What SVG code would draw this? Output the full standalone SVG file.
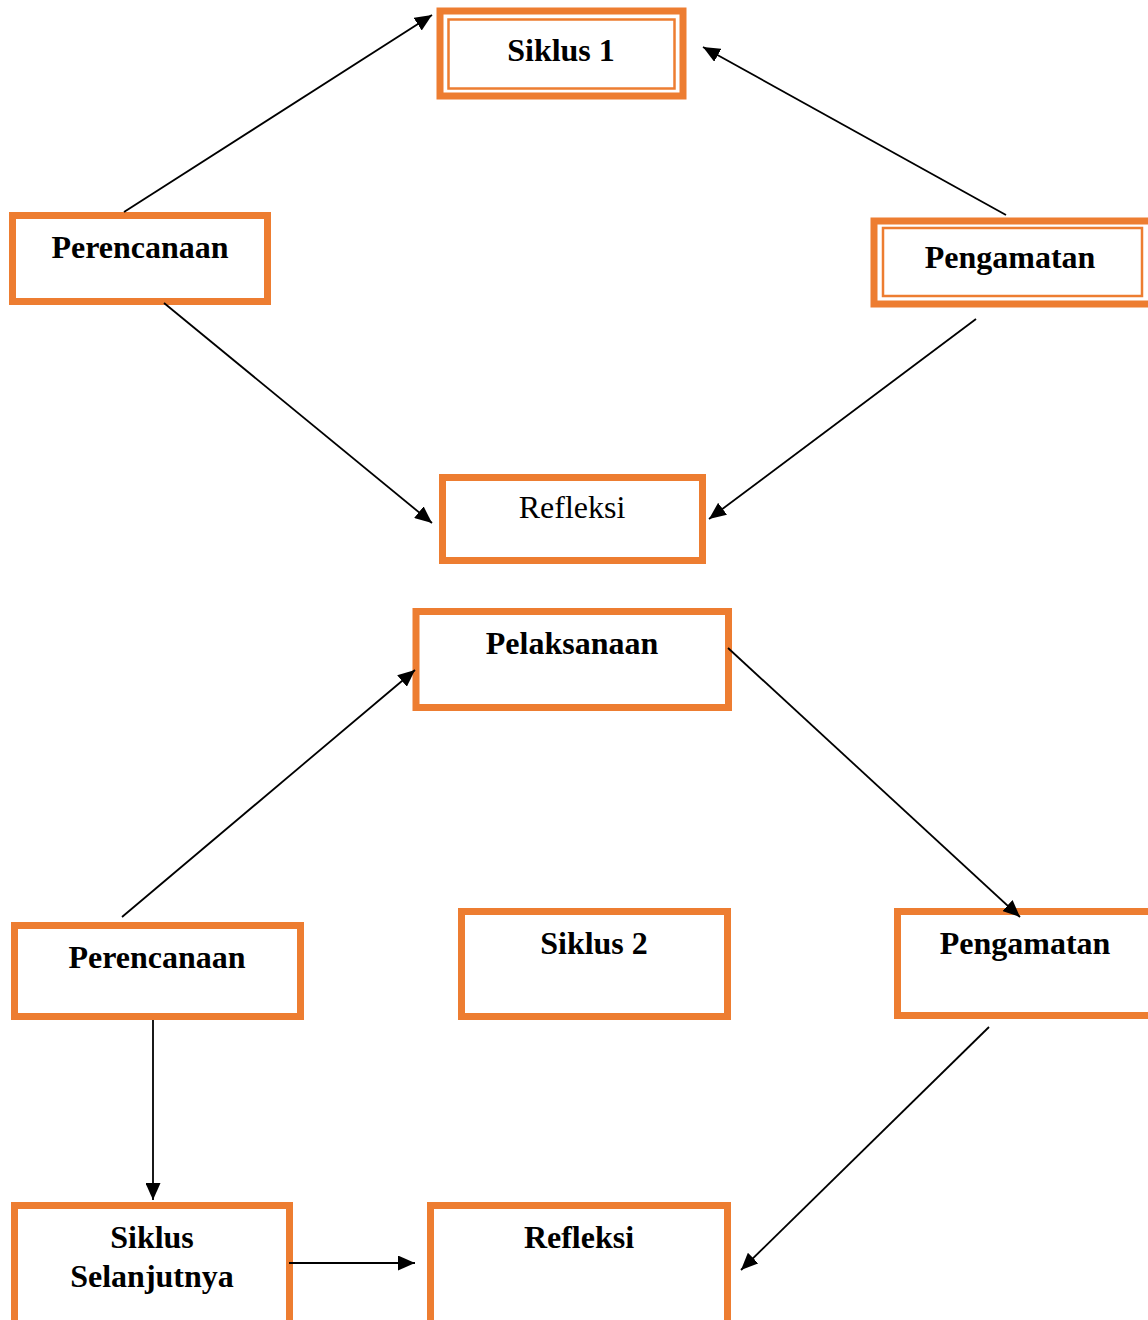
<svg xmlns="http://www.w3.org/2000/svg" width="1148" height="1320" viewBox="0 0 1148 1320">
<style>
.box{fill:#fff;stroke:#ED7D31;stroke-width:7}
.thin{fill:none;stroke:#ED7D31;stroke-width:2.5}
.t{font-family:"Liberation Serif","Times New Roman",serif;font-size:32px;font-weight:bold;fill:#000;text-anchor:middle}
.r{font-weight:normal}
.c{stroke:#000;stroke-width:1.8;fill:none;marker-end:url(#ah)}
</style>
<defs>
<marker id="ah" markerUnits="userSpaceOnUse" markerWidth="17" markerHeight="15" refX="17" refY="7.5" orient="auto">
<path d="M0,0 L17,7.5 L0,15 z" fill="#000"/>
</marker>
</defs>
<rect width="1148" height="1320" fill="#fff"/>
<g id="siklus1">
<rect class="box" x="440" y="11" width="243" height="85" stroke-width="8"/>
<rect class="thin" x="448.5" y="19.5" width="226" height="69"/>
<text class="t" x="561" y="61">Siklus 1</text>
</g>
<g id="perencanaan1">
<rect class="box" x="12.5" y="215.5" width="255" height="86"/>
<text class="t" x="140" y="258">Perencanaan</text>
</g>
<g id="pengamatan1">
<rect class="box" x="874" y="221" width="280" height="83" stroke-width="8"/>
<rect class="thin" x="883" y="228" width="259" height="68"/>
<text class="t" x="1010" y="268">Pengamatan</text>
</g>
<g id="refleksi1">
<rect class="box" x="442.5" y="477.5" width="260" height="83"/>
<text class="t r" x="572" y="518">Refleksi</text>
</g>
<g id="pelaksanaan">
<rect class="box" x="416" y="611.5" width="312.5" height="96"/>
<text class="t" x="572" y="654">Pelaksanaan</text>
</g>
<g id="perencanaan2">
<rect class="box" x="14.5" y="925.5" width="286" height="91"/>
<text class="t" x="157" y="968">Perencanaan</text>
</g>
<g id="siklus2">
<rect class="box" x="461.5" y="911.5" width="266" height="105"/>
<text class="t" x="594" y="954">Siklus 2</text>
</g>
<g id="pengamatan2">
<rect class="box" x="897.5" y="911.5" width="260" height="104"/>
<text class="t" x="1025" y="954">Pengamatan</text>
</g>
<g id="siklusSelanjutnya">
<rect class="box" x="14.5" y="1205.5" width="275" height="130"/>
<text class="t" x="152" y="1248">Siklus</text>
<text class="t" x="152" y="1287">Selanjutnya</text>
</g>
<g id="refleksi2">
<rect class="box" x="430.5" y="1205.5" width="297" height="130"/>
<text class="t" x="579" y="1248">Refleksi</text>
</g>
<g id="connectors">
<line class="c" x1="124" y1="212" x2="432" y2="15"/>
<line class="c" x1="1006" y1="215" x2="703" y2="47"/>
<line class="c" x1="164" y1="303" x2="432" y2="523"/>
<line class="c" x1="976" y1="319" x2="709" y2="519"/>
<line class="c" x1="122" y1="917" x2="415" y2="670"/>
<line class="c" x1="728" y1="648" x2="1020" y2="917"/>
<line class="c" x1="153" y1="1020" x2="153" y2="1200"/>
<line class="c" x1="989" y1="1027" x2="741" y2="1270"/>
<line class="c" x1="289" y1="1263" x2="415" y2="1263"/>
</g>
</svg>
